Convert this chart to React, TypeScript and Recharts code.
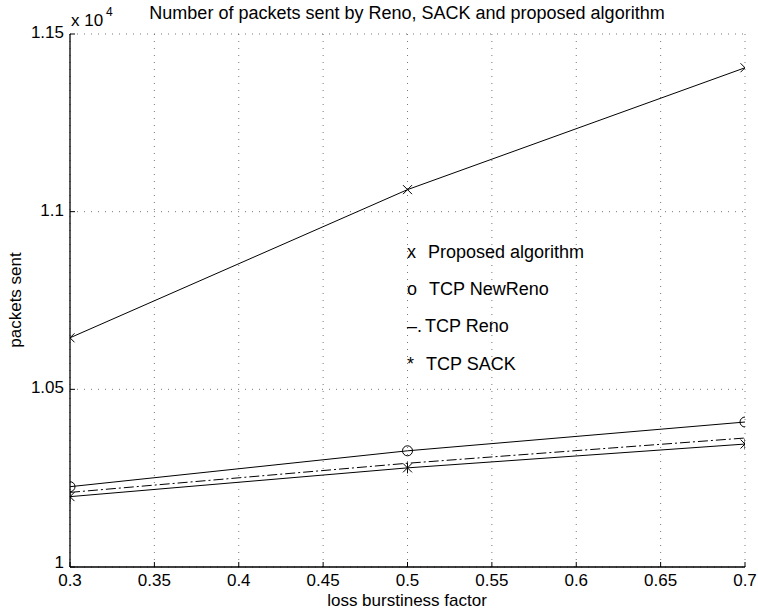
import React from 'react';
import { LineChart, Line, XAxis, YAxis, CartesianGrid, Customized } from 'recharts';

const burstiness = [0.3, 0.5, 0.7];
const proposed = [10645, 11062, 11405];
const newReno = [10226, 10327, 10408];
const reno = [10210, 10292, 10363];
const sack = [10198, 10279, 10346];

const xTicks = [0.3, 0.35, 0.4, 0.45, 0.5, 0.55, 0.6, 0.65, 0.7];
const yTicks = [10000, 10500, 11000, 11500];
const yTickLabels = ['1', '1.05', '1.1', '1.15'];

const title = 'Number of packets sent by Reno, SACK and proposed algorithm';
const xLabel = 'loss burstiness factor';
const yLabel = 'packets sent';
const legendItems = [
  { mark: 'x', text: 'Proposed algorithm' },
  { mark: 'o', text: 'TCP NewReno' },
  { mark: '–.', text: 'TCP Reno' },
  { mark: '*', text: 'TCP SACK' },
];

const data = burstiness.map((b, i) => ({
  b,
  proposed: proposed[i],
  newReno: newReno[i],
  reno: reno[i],
  sack: sack[i],
}));

const FONT = 'Liberation Sans, Arial, Helvetica, sans-serif';
const FS = 17;
const FL = 18;

const XMark = (props: any) => {
  const { cx, cy } = props;
  const s = 4.5;
  return (
    <g>
      <line x1={cx - s} y1={cy - s} x2={cx + s} y2={cy + s} stroke="#000" strokeWidth={1} />
      <line x1={cx - s} y1={cy + s} x2={cx + s} y2={cy - s} stroke="#000" strokeWidth={1} />
    </g>
  );
};

const OMark = (props: any) => {
  const { cx, cy } = props;
  return <circle cx={cx} cy={cy} r={5} fill="none" stroke="#000" strokeWidth={1} />;
};

const StarMark = (props: any) => {
  const { cx, cy } = props;
  const s = 4.5;
  return (
    <g>
      <line x1={cx - s} y1={cy - s} x2={cx + s} y2={cy + s} stroke="#000" strokeWidth={1} />
      <line x1={cx - s} y1={cy + s} x2={cx + s} y2={cy - s} stroke="#000" strokeWidth={1} />
      <line x1={cx} y1={cy - s - 1} x2={cx} y2={cy + s + 1} stroke="#000" strokeWidth={1} />
    </g>
  );
};

const YTick = (props: any) => {
  const { x, y, payload } = props;
  const idx = yTicks.indexOf(payload.value);
  return (
    <text x={x} y={y - (idx === 0 ? 5 : 2)} dy="0.355em" textAnchor="end" fill="#000" fontSize={FS} fontFamily={FONT}>
      {yTickLabels[idx]}
    </text>
  );
};

const Texts = () => (
  <g fontFamily={FONT} fill="#000">
    <text x={407} y={19} fontSize={FL} textAnchor="middle">{title}</text>
    <text x={407} y={606} fontSize={FS} textAnchor="middle">{xLabel}</text>
    <text
      x={0}
      y={0}
      fontSize={FS}
      textAnchor="middle"
      transform="translate(21,300) rotate(-90)"
    >
      {yLabel}
    </text>
    <text x={71} y={26} fontSize={FS}>x 10</text>
    <text x={106} y={16} fontSize={12}>4</text>
    {legendItems.map((it, i) => (
      <g key={it.text}>
        <text x={407} y={258 + i * 37.2} fontSize={FL}>{it.mark}</text>
        <text x={[428, 429, 425, 426][i]} y={258 + i * 37.2} fontSize={FL}>{it.text}</text>
      </g>
    ))}
  </g>
);

export default function App() {
  return (
    <div style={{ position: 'absolute', left: 0, top: 0, width: 758, height: 611, background: '#fff' }}>
      <LineChart
        width={758}
        height={611}
        data={data}
        margin={{ top: 34, right: 13, bottom: 0, left: 0 }}
      >
        <CartesianGrid stroke="#555" strokeDasharray="1 6" strokeWidth={0.8} />
        <XAxis
          dataKey="b"
          type="number"
          domain={[0.3, 0.7]}
          ticks={xTicks}
          height={44}
          axisLine={{ stroke: '#000', strokeWidth: 1.3 }}
          tickLine={{ stroke: '#000' }}
          tickSize={-5}
          tickMargin={12}
          tick={{ fill: '#000', fontSize: FS, fontFamily: FONT }}
          interval={0}
          allowDataOverflow
        />
        <XAxis
          xAxisId="top"
          dataKey="b"
          type="number"
          orientation="top"
          domain={[0.3, 0.7]}
          ticks={xTicks}
          height={0}
          axisLine={{ stroke: '#000', strokeWidth: 1.3 }}
          tickLine={{ stroke: '#000' }}
          tickSize={-5}
          tickFormatter={() => ''}
          interval={0}
        />
        <YAxis
          type="number"
          domain={[10000, 11500]}
          ticks={yTicks}
          width={70}
          axisLine={{ stroke: '#000', strokeWidth: 1.3 }}
          tickLine={{ stroke: '#000' }}
          tickSize={-5}
          tickMargin={11}
          tick={<YTick />}
          interval={0}
          allowDataOverflow
        />
        <YAxis
          yAxisId="right"
          type="number"
          orientation="right"
          domain={[10000, 11500]}
          ticks={yTicks}
          width={0}
          axisLine={{ stroke: '#000', strokeWidth: 1.3 }}
          tickLine={{ stroke: '#000' }}
          tickSize={-5}
          tickFormatter={() => ''}
          interval={0}
        />
        <Line dataKey="proposed" stroke="#000" strokeWidth={1} dot={<XMark />} isAnimationActive={false} />
        <Line dataKey="newReno" stroke="#000" strokeWidth={1} dot={<OMark />} isAnimationActive={false} />
        <Line dataKey="reno" stroke="#000" strokeWidth={1} strokeDasharray="10 3 2 3" dot={false} isAnimationActive={false} />
        <Line dataKey="sack" stroke="#000" strokeWidth={1} dot={<StarMark />} isAnimationActive={false} />
        <Customized component={Texts} />
      </LineChart>
    </div>
  );
}
